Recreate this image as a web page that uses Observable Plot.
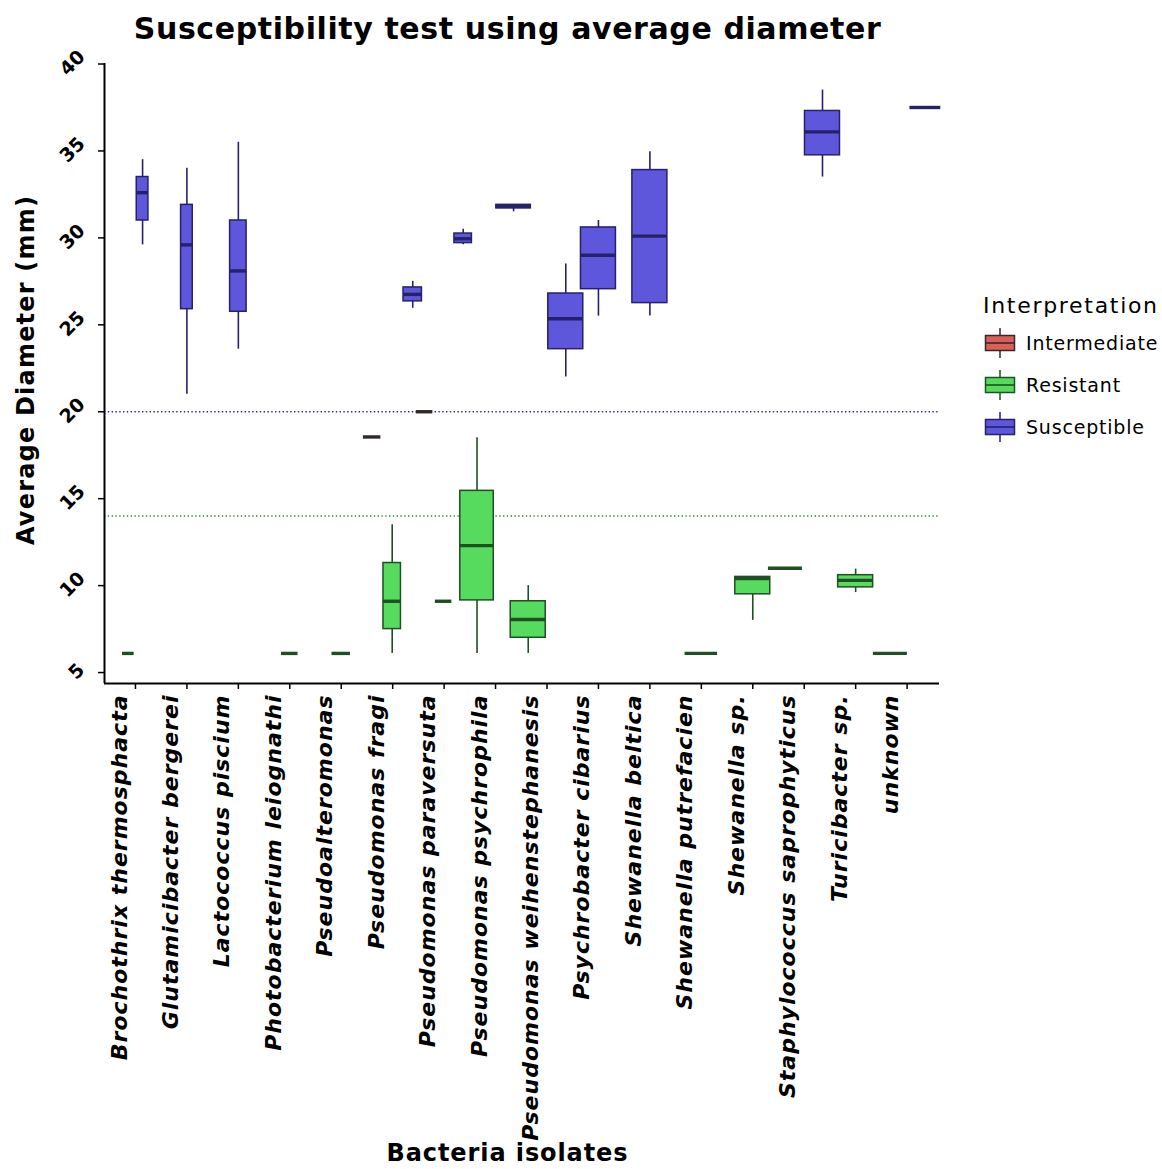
<!DOCTYPE html>
<html>
<head>
<meta charset="utf-8">
<script src="https://cdn.jsdelivr.net/npm/d3@7"></script>
<script src="https://cdn.jsdelivr.net/npm/@observablehq/plot@0.6"></script>
<style>
  body { margin: 0; background: #fff; font-family: "DejaVu Sans", sans-serif; }
  #wrap { position: relative; width: 1162px; height: 1169px; overflow: hidden; }
  #wrap svg.plot { position: absolute; left: 0; top: 0; }
  #wrap svg.plot g[font-style="italic"] text { letter-spacing: 1px; }
  .title { position: absolute; left: 0; width: 1015px; top: 11px; text-align: center; font-weight: bold; font-size: 30px; letter-spacing: 0.6px; color: #000; white-space: nowrap; }
  .xtitle { position: absolute; left: 0; width: 1015px; top: 1140px; height: 26px; line-height: 26px; text-align: center; font-weight: bold; font-size: 24px; letter-spacing: 0.9px; white-space: nowrap; }
  .ytitle { position: absolute; left: 26px; top: 370px; transform: translate(-50%, -50%) rotate(-90deg); white-space: nowrap; font-weight: bold; font-size: 24px; letter-spacing: 1.2px; }
  .legend { position: absolute; left: 983px; top: 293px; }
  .legend .lt { font-size: 22px; letter-spacing: 1.7px; margin-bottom: 4px; white-space: nowrap; }
  .legend .item { display: flex; align-items: center; height: 42px; }
  .legend .item span { font-size: 19px; letter-spacing: 0.8px; margin-left: 9px; white-space: nowrap; }
</style>
</head>
<body>
<div id="wrap"></div>
<script>
// ---------- data ----------
const categories = [
  "Brochothrix thermosphacta", "Glutamicibacter bergerei", "Lactococcus piscium",
  "Photobacterium leiognathi", "Pseudoalteromonas", "Pseudomonas fragi",
  "Pseudomonas paraversuta", "Pseudomonas psychrophila", "Pseudomonas weihenstephanesis",
  "Psychrobacter cibarius", "Shewanella beltica", "Shewanella putrefacien",
  "Shewanella sp.", "Staphylococcus saprophyticus", "Turicibacter sp.", "unknown"
];
const interpretations = ["Intermediate", "Resistant", "Susceptible"];
const interpColors = ["#db5f57", "#57db5f", "#5f57db"];
const interpLines = ["#332828", "#1f4f23", "#25216b"];

const boxIsolate = [
  "Brochothrix thermosphacta", "Brochothrix thermosphacta", "Glutamicibacter bergerei",
  "Lactococcus piscium", "Photobacterium leiognathi", "Pseudoalteromonas",
  "Pseudomonas fragi", "Pseudomonas fragi", "Pseudomonas fragi",
  "Pseudomonas paraversuta", "Pseudomonas paraversuta", "Pseudomonas paraversuta",
  "Pseudomonas psychrophila", "Pseudomonas psychrophila",
  "Pseudomonas weihenstephanesis", "Pseudomonas weihenstephanesis",
  "Psychrobacter cibarius", "Shewanella beltica", "Shewanella putrefacien",
  "Shewanella sp.", "Staphylococcus saprophyticus", "Staphylococcus saprophyticus",
  "Turicibacter sp.", "unknown", "unknown"
];
const boxInterpretation = [
  "Resistant", "Susceptible", "Susceptible",
  "Susceptible", "Resistant", "Resistant",
  "Intermediate", "Resistant", "Susceptible",
  "Intermediate", "Resistant", "Susceptible",
  "Resistant", "Susceptible",
  "Resistant", "Susceptible",
  "Susceptible", "Susceptible", "Resistant",
  "Resistant", "Resistant", "Susceptible",
  "Resistant", "Resistant", "Susceptible"
];
const whiskerLow  = [6.1, 29.6, 21.0, 23.6, 6.1, 6.1, 18.55, 6.1, 25.95, 20.0, 9.1, 29.6, 6.1, 31.5, 6.1, 22.0, 25.5, 25.5, 6.1, 8.0, 11.0, 33.5, 9.6, 6.1, 37.5];
const quartile1   = [6.1, 31.0, 25.9, 25.75, 6.1, 6.1, 18.55, 7.5, 26.35, 20.0, 9.1, 29.7, 9.15, 31.7, 7.0, 23.6, 27.05, 26.25, 6.1, 9.5, 11.0, 34.75, 9.9, 6.1, 37.5];
const medianValue = [6.1, 32.6, 29.6, 28.1, 6.1, 6.1, 18.55, 9.1, 26.75, 20.0, 9.1, 29.95, 12.3, 31.8, 8.05, 25.35, 29.0, 30.1, 6.1, 10.4, 11.0, 36.1, 10.3, 6.1, 37.5];
const quartile3   = [6.1, 33.5, 31.9, 31.0, 6.1, 6.1, 18.55, 11.3, 27.15, 20.0, 9.1, 30.25, 15.45, 31.9, 9.1, 26.8, 30.6, 33.9, 6.1, 10.5, 11.0, 37.3, 10.6, 6.1, 37.5];
const whiskerHigh = [6.1, 34.5, 34.0, 35.5, 6.1, 6.1, 18.55, 13.5, 27.5, 20.0, 9.1, 30.5, 18.5, 31.9, 10.0, 28.5, 31.0, 34.95, 6.1, 10.5, 11.0, 38.5, 10.95, 6.1, 37.5];
const isolatesTested = [4, 4, 4, 8, 8, 10, 9, 9, 10, 8, 8, 9, 33, 35, 36, 36, 36, 36, 31, 36, 34, 36, 36, 34, 28];

const yTicks = [5, 10, 15, 20, 25, 30, 35, 40];
const breakpoints = [20, 14];
const breakpointColors = ["#2b2b95", "#2f8f3a"];

// ---------- build table ----------
const rows = boxIsolate.map((iso, i) => ({
  isolate: iso, interp: boxInterpretation[i],
  lo: whiskerLow[i], q1: quartile1[i], med: medianValue[i], q3: quartile3[i], hi: whiskerHigh[i],
  n: isolatesTested[i]
}));
const maxN = d3.max(isolatesTested);
const fullWidth = 0.68, gap = 0.05;
rows.forEach(r => r.w = fullWidth * Math.sqrt(r.n / maxN));
d3.group(rows, r => r.isolate).forEach((g, iso) => {
  g.sort((a, b) => interpretations.indexOf(a.interp) - interpretations.indexOf(b.interp));
  const total = d3.sum(g, r => r.w) + gap * (g.length - 1);
  let x = categories.indexOf(iso) - total / 2;
  for (const r of g) { r.x1 = x; r.x2 = x + r.w; r.xc = x + r.w / 2; x += r.w + gap; }
});

const xDomain = [-0.602, 15.63];
const yDomain = [4.37, 40.03];

const boxMarks = interpretations.flatMap((k, i) => {
  const d = rows.filter(r => r.interp === k);
  const line = interpLines[i];
  return [
    Plot.ruleX(d, {x: "xc", y1: "lo", y2: "q1", stroke: line, strokeWidth: 1.6}),
    Plot.ruleX(d, {x: "xc", y1: "q3", y2: "hi", stroke: line, strokeWidth: 1.6}),
    Plot.rect(d, {x1: "x1", x2: "x2", y1: "q1", y2: "q3", fill: "interp", stroke: line, strokeWidth: 1.5}),
    Plot.ruleY(d, {x1: "x1", x2: "x2", y: "med", stroke: line, strokeWidth: 3.4})
  ];
});

const labelFont = {fontFamily: "DejaVu Sans", fontWeight: "bold"};

const chart = Plot.plot({
  width: 1162, height: 1169,
  marginLeft: 104, marginRight: 223, marginTop: 63, marginBottom: 486,
  style: {background: "transparent", fontFamily: "DejaVu Sans", color: "#000"},
  x: {type: "linear", domain: xDomain, axis: null},
  y: {domain: yDomain, axis: null},
  color: {domain: interpretations, range: interpColors},
  marks: [
    Plot.ruleY([breakpoints[0]], {stroke: breakpointColors[0], strokeWidth: 1.4, strokeDasharray: "1.4,2.4"}),
    Plot.ruleY([breakpoints[1]], {stroke: breakpointColors[1], strokeWidth: 1.4, strokeDasharray: "1.4,2.4"}),
    ...boxMarks,
    Plot.axisY(yTicks, {tickSize: 6, tickFormat: () => "", stroke: "#000", strokeWidth: 1.5}),
    Plot.axisX(d3.range(categories.length), {tickSize: 6, tickFormat: () => "", stroke: "#000", strokeWidth: 1.5}),
    Plot.ruleX([xDomain[0]], {stroke: "#000", strokeWidth: 2}),
    Plot.ruleY([yDomain[0]], {stroke: "#000", strokeWidth: 2}),
    Plot.text(yTicks.filter(t => String(t).length > 1), {
      y: d => d, frameAnchor: "left", text: d => String(d), rotate: -45,
      textAnchor: "middle", lineAnchor: "middle", dx: -32, dy: -1, fontSize: 19, fill: "#000", ...labelFont
    }),
    Plot.text(yTicks.filter(t => String(t).length === 1), {
      y: d => d, frameAnchor: "left", text: d => String(d), rotate: -45,
      textAnchor: "middle", lineAnchor: "middle", dx: -28, dy: -1, fontSize: 19, fill: "#000", ...labelFont
    }),
    Plot.text(categories, {
      x: (d, i) => i, frameAnchor: "bottom", text: d => d, rotate: -90,
      textAnchor: "end", lineAnchor: "middle", dy: 11, dx: -16,
      fontSize: 22, fontStyle: "italic", fill: "#000", ...labelFont
    })
  ]
});
chart.classList.add("plot");

const wrap = document.getElementById("wrap");
wrap.appendChild(chart);

const title = document.createElement("div");
title.className = "title";
title.textContent = "Susceptibility test using average diameter";
wrap.appendChild(title);

const xt = document.createElement("div");
xt.className = "xtitle";
xt.textContent = "Bacteria isolates";
wrap.appendChild(xt);

const yt = document.createElement("div");
yt.className = "ytitle";
yt.textContent = "Average Diameter (mm)";
wrap.appendChild(yt);

const leg = document.createElement("div");
leg.className = "legend";
leg.innerHTML = `<div class="lt">Interpretation</div>` + interpretations.map((k, i) => `
  <div class="item">
    <svg width="34" height="36" viewBox="0 0 34 36">
      <line x1="17" x2="17" y1="3" y2="33" stroke="${interpLines[i]}" stroke-width="1.5"/>
      <rect x="2.5" y="10.5" width="29" height="15" fill="${interpColors[i]}" stroke="${interpLines[i]}" stroke-width="1.5"/>
      <line x1="2.5" x2="31.5" y1="18" y2="18" stroke="${interpLines[i]}" stroke-width="1.6"/>
    </svg><span>${k}</span>
  </div>`).join("");
wrap.appendChild(leg);
</script>
</body>
</html>
